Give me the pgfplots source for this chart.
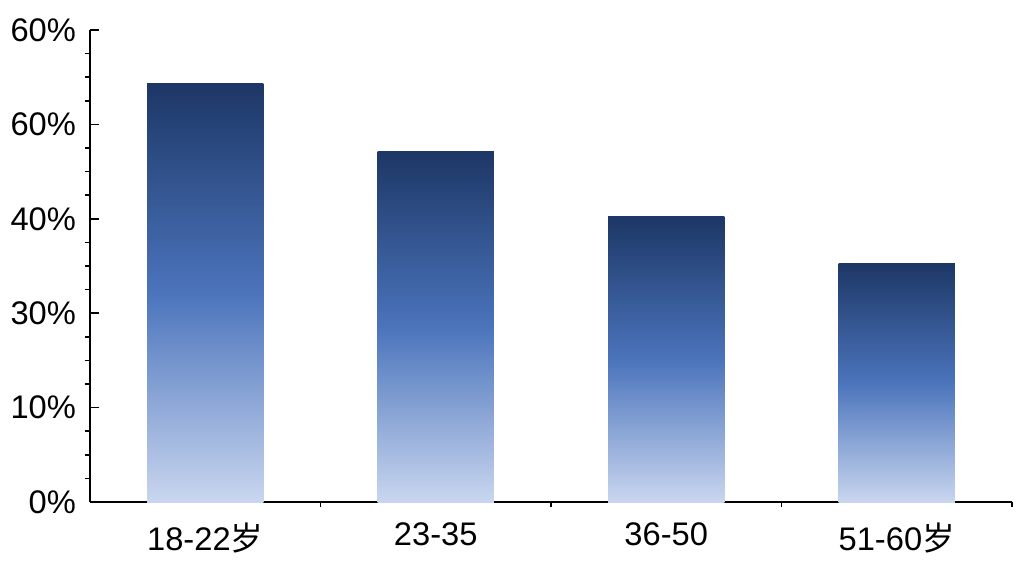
\documentclass[border=0pt]{standalone}
\usepackage{fontspec}
\setmainfont{Liberation Sans}
\newfontfamily\cjk{Noto Sans CJK SC}
\usepackage{pgfplots}
\pgfplotsset{compat=1.18}
\definecolor{bartop}{HTML}{1D3766}
\definecolor{barmid}{HTML}{4B74BC}
\definecolor{barbot}{HTML}{C9D6EF}

\begin{document}
\begin{tikzpicture}
\useasboundingbox (0,0) rectangle (768pt,432pt);
\begin{axis}[
  at={(67.5pt,55.5pt)}, anchor=south west,
  scale only axis,
  width=691.5pt, height=354pt,
  axis x line*=bottom, axis y line*=left,
  axis line style={line width=1.2pt},
  xmin=-0.5, xmax=3.5,
  ymin=0, ymax=50,
  xtick={0,1,2,3},
  xticklabels={18-22{\cjk 岁},23-35,36-50,51-60{\cjk 岁}},
  minor xtick={0.5,1.5,2.5,3.5},
  ytick={0,10,20,30,40,50},
  yticklabels={0\%,10\%,30\%,40\%,60\%,60\%},
  minor y tick num=3,
  tick align=inside,
  major tick length=7pt,
  minor tick length=3.5pt,
  tick style={line width=1.2pt, black},
  minor y tick style={xshift=-3.5pt},
  minor x tick style={yshift=-3.5pt},
  ticklabel style={font=\fontsize{24.5}{28}\selectfont},
  xticklabel style={yshift=-12pt},
  yticklabel style={xshift=-7pt},
  barstyle/.style={ybar, bar width=0.505, bar shift=0pt, draw=none, mark=none,
    top color=bartop, bottom color=barbot, middle color=barmid},
]
\addplot[barstyle] coordinates {(0,44.3)};
\addplot[barstyle] coordinates {(1,37.1)};
\addplot[barstyle] coordinates {(2,30.2)};
\addplot[barstyle] coordinates {(3,25.3)};
\end{axis}
\end{tikzpicture}
\end{document}
